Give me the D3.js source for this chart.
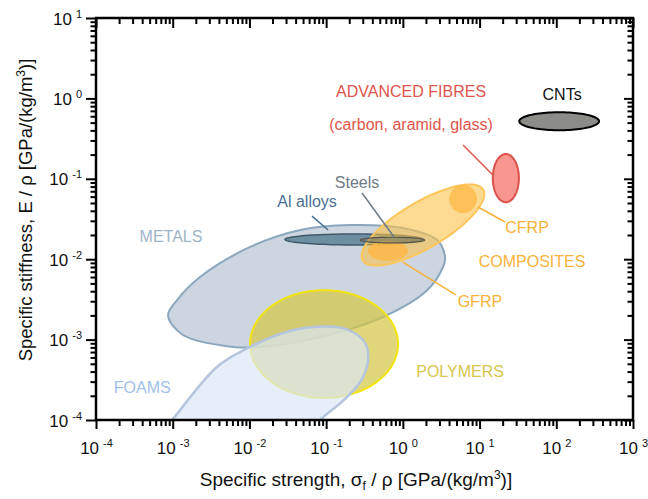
<!DOCTYPE html>
<html>
<head>
<meta charset="utf-8">
<script src="https://cdn.jsdelivr.net/npm/d3@7"></script>
<style>
  body { margin: 0; background: #fff; }
  text { font-family: "Liberation Sans", Arial, sans-serif; }
</style>
</head>
<body>
<svg id="chart" width="648" height="499"></svg>
<script>
// tick values (log axes)
var xMajor = [1e-4, 1e-3, 1e-2, 1e-1, 1e0, 1e1, 1e2, 1e3];
var yMajor = [1e-4, 1e-3, 1e-2, 1e-1, 1e0, 1e1];

// free-form regions: [specific strength, specific stiffness]
var metalsOutline = [
  [8.7e-4, 2.0e-3], [1.14e-3, 3.1e-3], [2.27e-3, 6.0e-3], [1.02e-2, 1.42e-2],
  [4.6e-2, 2.31e-2], [0.205, 2.66e-2], [1.0, 2.44e-2], [2.79, 1.73e-2],
  [3.55, 1.06e-2], [3.34, 8.0e-3], [2.07, 4.1e-3], [0.552, 1.91e-3],
  [7.6e-2, 1.05e-3], [1.37e-2, 8.1e-4], [6.1e-3, 8.1e-4], [1.36e-3, 1.14e-3]
];
var foamsOutline = [
  [5.1e-4, 4.9e-5], [9.8e-4, 1.0e-4], [3.8e-3, 4.6e-4], [1.02e-2, 8.1e-4],
  [2.74e-2, 1.21e-3], [7.6e-2, 1.44e-3], [0.166, 1.39e-3], [0.303, 9.9e-4],
  [0.352, 6.8e-4], [0.303, 3.4e-4], [0.187, 1.93e-4], [8.3e-2, 1.0e-4],
  [3.9e-2, 4.9e-5]
];

// elliptical regions: centre, half-axes (decades), tilt (degrees)
var ellipseIds = ["polymers", "alloys", "composites", "gfrp", "cfrp", "steels", "fibres", "cnts"];
var ellipseCentre = [[0.094, 8.8e-4], [0.231, 0.0176], [1.83, 0.0266], [0.64, 0.0127],
                     [6.1, 0.056], [0.73, 0.0173], [22, 0.102], [109, 0.52]];
var ellipseHalfAxes = [[0.965, 0.67], [0.90, 0.068], [0.90, 0.29], [0.26, 0.125],
                       [0.18, 0.175], [0.42, 0.035], [0.17, 0.30], [0.52, 0.112]];
var ellipseTilt = [0, 0, 29, 0, 0, 0, 0, 0];

// labels and leader lines
var labelText = ["ADVANCED FIBRES", "(carbon, aramid, glass)", "CNTs", "Steels", "Al alloys",
                 "METALS", "CFRP", "COMPOSITES", "GFRP", "POLYMERS", "FOAMS"];
var labelAt = [[1.28, 1.04], [1.28, 0.405], [119, 0.955], [0.253, 0.077], [0.0564, 0.0446],
               [9.5e-4, 0.0164], [41.6, 0.0212], [48.3, 0.008], [10.1, 0.00254],
               [5.57, 3.43e-4], [4.0e-4, 2.17e-4]];
var leaderFrom = [[6.1, 0.263], [0.0655, 0.0344], [0.294, 0.0665], [9.55, 0.0446], [1.0, 0.0092]];
var leaderTo = [[15, 0.111], [0.106, 0.0231], [0.767, 0.0189], [21.5, 0.029], [4.9, 0.0036]];

var labelColour = ["#e0554c", "#e0554c", "#111", "#6e7a85", "#4c6f92", "#9fb4c8",
                   "#f8b23a", "#f8b23a", "#f8b23a", "#d5c64c", "#a3bfe9"];
var leaderColour = ["#e0554c", "#4c6f92", "#6e7a85", "#f8b23a", "#f8b23a"];

var style = {
  metals:     { fill: "#cdd5e0", op: 1,    stroke: "#8ba7bd", sw: 2 },
  polymers:   { fill: "#d4c746", op: 0.72, stroke: "#f2e40f", sw: 2 },
  foams:      { fill: "#dbe6f6", op: 0.69, stroke: "#b5c5dc", sw: 2.5 },
  alloys:     { fill: "#6e8ea2", op: 1,    stroke: "#3f5a6b", sw: 1.5 },
  composites: { fill: "#fcc24a", op: 0.6,  stroke: "#fdc65a", sw: 2 },
  gfrp:       { fill: "#fdb844", op: 0.8,  stroke: "none",    sw: 0 },
  cfrp:       { fill: "#fdb844", op: 0.75, stroke: "none",    sw: 0 },
  steels:     { fill: "#6b6b5e", op: 0.45, stroke: "#55554f", sw: 1.2 },
  fibres:     { fill: "#f9968f", op: 1,    stroke: "#d9534a", sw: 2 },
  cnts:       { fill: "#8c8c88", op: 1,    stroke: "#000",    sw: 2 }
};

var margin = { top: 18, right: 15, bottom: 79, left: 96 },
  width = 648 - margin.left - margin.right,
  height = 499 - margin.top - margin.bottom;

var svg = d3.select("#chart");
var canvas = svg.append("g")
  .attr("transform", "translate(" + margin.left + "," + margin.top + ")");

var x = d3.scaleLog().domain([1e-4, 1e3]).range([0, width]);
var y = d3.scaleLog().domain([1e-4, 1e1]).range([height, 0]);

canvas.append("clipPath").attr("id", "plotclip")
  .append("rect").attr("width", width).attr("height", height);

var plot = canvas.append("g").attr("clip-path", "url(#plotclip)");

var blob = d3.line().x(function(d) { return x(d[0]); }).y(function(d) { return y(d[1]); })
  .curve(d3.curveCatmullRomClosed.alpha(0.5));
var ring = d3.line().x(function(d) { return x(d[0]); }).y(function(d) { return y(d[1]); })
  .curve(d3.curveLinearClosed);

var ellipsePoints = function(c, r, tilt) {
  var lx = Math.log10(c[0]), ly = Math.log10(c[1]), a = tilt * Math.PI / 180;
  return d3.range(96).map(function(i) {
    var t = i / 96 * 2 * Math.PI;
    var u = r[0] * Math.cos(t), v = r[1] * Math.sin(t);
    return [Math.pow(10, lx + u * Math.cos(a) - v * Math.sin(a)),
            Math.pow(10, ly + u * Math.sin(a) + v * Math.cos(a))];
  });
};

var paint = function(sel, s) {
  sel.style("fill", s.fill).style("fill-opacity", s.op)
    .style("stroke", s.stroke).style("stroke-width", s.sw);
};

var drawEllipse = function(id) {
  var i = ellipseIds.indexOf(id);
  plot.append("path")
    .attr("class", "region " + id)
    .attr("d", ring(ellipsePoints(ellipseCentre[i], ellipseHalfAxes[i], ellipseTilt[i])))
    .call(paint, style[id]);
};

plot.append("path").attr("class", "region metals").attr("d", blob(metalsOutline)).call(paint, style.metals);
drawEllipse("polymers");
plot.append("path").attr("class", "region foams").attr("d", blob(foamsOutline)).call(paint, style.foams);
["alloys", "composites", "gfrp", "cfrp", "steels", "fibres", "cnts"].forEach(drawEllipse);

// leader lines
plot.selectAll(".leader")
  .data(leaderFrom)
  .enter().append("line")
  .attr("class", "leader")
  .attr("x1", function(d) { return x(d[0]); })
  .attr("y1", function(d) { return y(d[1]); })
  .attr("x2", function(d, i) { return x(leaderTo[i][0]); })
  .attr("y2", function(d, i) { return y(leaderTo[i][1]); })
  .style("stroke", function(d, i) { return leaderColour[i]; })
  .style("stroke-width", 1.5);

// region labels
canvas.selectAll(".rlabel")
  .data(labelText)
  .enter().append("text")
  .attr("class", "rlabel")
  .attr("x", function(d, i) { return x(labelAt[i][0]); })
  .attr("y", function(d, i) { return y(labelAt[i][1]); })
  .style("font-size", "16px")
  .style("fill", function(d, i) { return labelColour[i]; })
  .style("text-anchor", "middle")
  .text(function(d) { return d; });

// minor tick values 2..9 per decade
var minors = function(majors) {
  var out = [];
  majors.slice(0, -1).forEach(function(m) {
    for (var k = 2; k <= 9; k++) out.push(k * m);
  });
  return out;
};

var styleAxis = function(g) {
  g.select(".domain").remove();
  g.selectAll("line").style("stroke", "#000").style("stroke-width", 2);
  g.selectAll("text").remove();
};

// bottom
canvas.append("g").attr("transform", "translate(0," + height + ")")
  .call(d3.axisBottom(x).tickValues(minors(xMajor)).tickSize(6)).call(styleAxis);
var xAx = canvas.append("g").attr("transform", "translate(0," + height + ")")
  .call(d3.axisBottom(x).tickValues(xMajor).tickSize(9)).call(styleAxis);
// top (inward)
canvas.append("g").call(d3.axisTop(x).tickValues(minors(xMajor)).tickSize(-6)).call(styleAxis);
canvas.append("g").call(d3.axisTop(x).tickValues(xMajor).tickSize(-10)).call(styleAxis);
// left
canvas.append("g").call(d3.axisLeft(y).tickValues(minors(yMajor)).tickSize(5.5)).call(styleAxis);
var yAx = canvas.append("g").call(d3.axisLeft(y).tickValues(yMajor).tickSize(10)).call(styleAxis);
// right (inward)
canvas.append("g").attr("transform", "translate(" + width + ",0)")
  .call(d3.axisRight(y).tickValues(minors(yMajor)).tickSize(-5.5)).call(styleAxis);
canvas.append("g").attr("transform", "translate(" + width + ",0)")
  .call(d3.axisRight(y).tickValues(yMajor).tickSize(-9)).call(styleAxis);

canvas.append("rect")
  .attr("width", width).attr("height", height)
  .style("fill", "none").style("stroke", "#000").style("stroke-width", 2.5);

var powLabel = function(sel, v) {
  var e = Math.round(Math.log10(v));
  sel.append("tspan").text("10");
  sel.append("tspan").attr("dx", 4).attr("dy", -7).style("font-size", "11px").text(e);
};

xAx.selectAll(".tick").append("text")
  .attr("y", 34)
  .style("font-size", "17px").style("fill", "#111").style("text-anchor", "middle")
  .each(function(d) { powLabel(d3.select(this), d); });

yAx.selectAll(".tick").append("text")
  .attr("x", -14).attr("y", 6)
  .style("font-size", "17px").style("fill", "#111").style("text-anchor", "end")
  .each(function(d) { powLabel(d3.select(this), d); });

// axis titles
var xt = svg.append("text")
  .attr("x", 356).attr("y", 486)
  .style("font-size", "19px").style("fill", "#111").style("text-anchor", "middle");
xt.append("tspan").text("Specific strength, σ");
xt.append("tspan").attr("dy", 4).style("font-size", "12px").text("f");
xt.append("tspan").attr("dy", -4).text(" / ρ [GPa/(kg/m");
xt.append("tspan").attr("dy", -7).style("font-size", "12px").text("3");
xt.append("tspan").attr("dy", 7).text(")]");

var yt = svg.append("text")
  .attr("transform", "translate(32,210) rotate(-90)")
  .style("font-size", "18.5px").style("fill", "#111").style("text-anchor", "middle");
yt.append("tspan").text("Specific stiffness, E / ρ [GPa/(kg/m");
yt.append("tspan").attr("dy", -7).style("font-size", "12px").text("3");
yt.append("tspan").attr("dy", 7).text(")]");
</script>
</body>
</html>
